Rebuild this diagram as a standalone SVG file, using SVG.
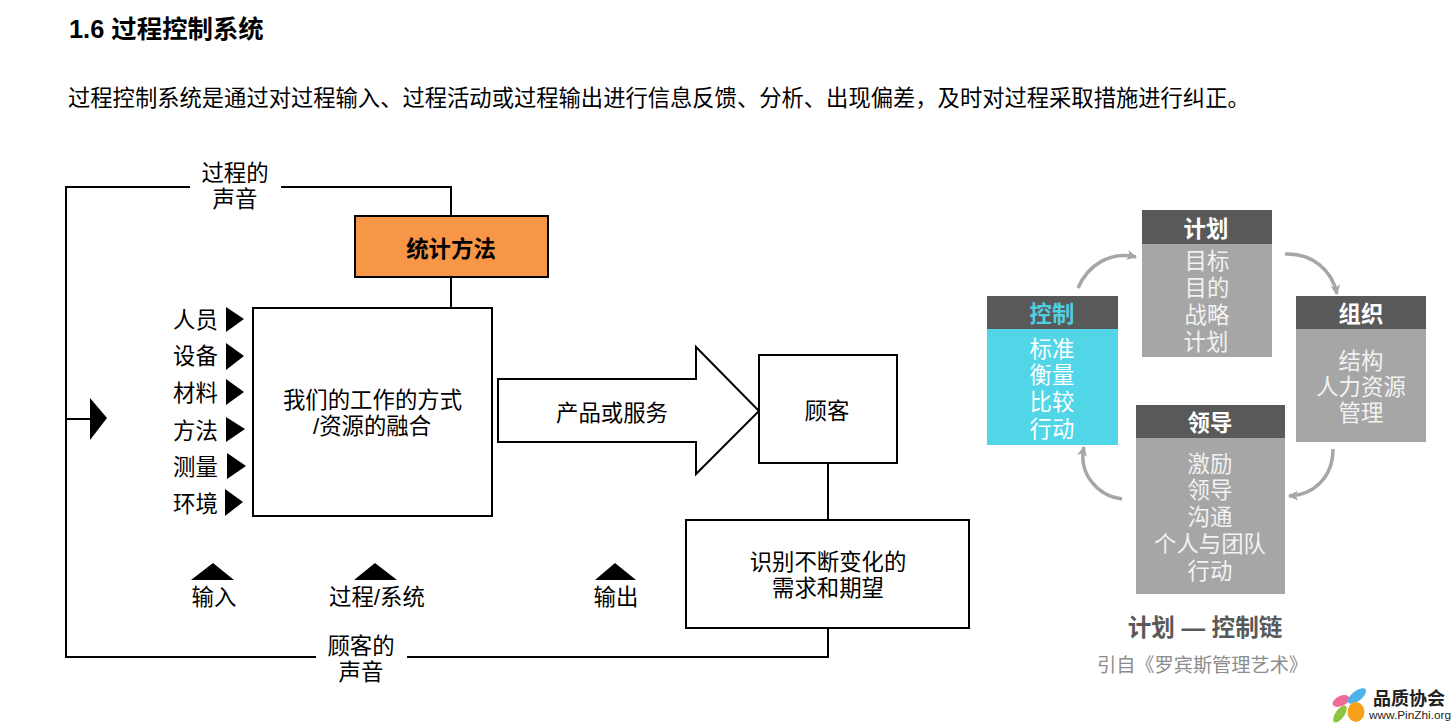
<svg xmlns="http://www.w3.org/2000/svg" width="1456" height="726" viewBox="0 0 1456 726">
<style>
text{font-family:"Liberation Sans","Noto Sans CJK SC",sans-serif;fill:#000;text-anchor:middle}
.t{font-size:22.4px}
.b{font-size:22.4px;font-weight:700}
.w{font-size:22.4px;fill:#f2f2f2}
.h{font-size:22.4px;font-weight:700;fill:#fff}
.box{fill:#fff;stroke:#000;stroke-width:2}
.ln{fill:none;stroke:#000;stroke-width:2}
.arc{fill:none;stroke:#a6a6a6;stroke-width:3.5;marker-end:url(#ah)}
.hd{fill:#595959}.gr{fill:#a6a6a6}
</style>
<defs><marker id="ah" markerUnits="userSpaceOnUse" markerWidth="12" markerHeight="12" refX="9" refY="5" orient="auto"><path d="M0 0L10 5L0 10L2.5 5Z" fill="#a6a6a6"/></marker></defs>
<text id="title" x="69" y="38" style="text-anchor:start;font-size:25.400px;font-weight:700">1.6 过程控制系统</text>
<text id="intro" x="68" y="106" style="text-anchor:start;font-size:22.3px">过程控制系统是通过对过程输入、过程活动或过程输出进行信息反馈、分析、出现偏差，及时对过程采取措施进行纠正。</text>
<g id="connectors">
<path class="ln" d="M190 187H66V657H316M281 187H451V216M451 277V308M407 657H828V628M828 463V520M66 419H92"/>
<path d="M90 398L107 418L90 440Z"/>
<path class="arc" d="M1078 288C1088 265 1110 251 1136 257"/>
<path class="arc" d="M1285 254C1312 253 1332 270 1337 294"/>
<path class="arc" d="M1333 449C1333 477 1314 495 1289 496"/>
<path class="arc" d="M1122 499C1098 496 1078 474 1084 447"/>
</g>
<g id="voice-process"><text class="t"><tspan x="235" y="181">过程的</tspan><tspan x="235" y="207">声音</tspan></text></g>
<g id="stat"><rect x="355" y="216" width="193" height="61" fill="#f79646" stroke="#000" stroke-width="2"/><text class="b" x="451" y="257">统计方法</text></g>
<g id="process"><rect class="box" x="253" y="308" width="239" height="208"/><text class="t"><tspan x="372.500" y="408">我们的工作的方式</tspan><tspan x="372" y="434">/资源的融合</tspan></text></g>
<g id="inputs">
<text class="t" x="195.500" y="328">人员</text><path d="M226 307L244 319L226 332Z"/>
<text class="t" x="195.500" y="364">设备</text><path d="M226 343L244 356L226 370Z"/>
<text class="t" x="195.500" y="401">材料</text><path d="M226 379L244 392L226 405Z"/>
<text class="t" x="195.500" y="439">方法</text><path d="M226 417L245 429L226 442Z"/>
<text class="t" x="195.500" y="475">测量</text><path d="M227 453L246 466L227 479Z"/>
<text class="t" x="195.500" y="512">环境</text><path d="M225 489L243 502L225 516Z"/>
</g>
<g id="product"><path class="box" d="M498 379H696V347L759 411L696 474V442H498Z"/><text class="t" x="612" y="421">产品或服务</text></g>
<g id="customer"><rect class="box" x="759" y="355" width="138" height="108"/><text class="t" x="827" y="419">顾客</text></g>
<g id="needs"><rect class="box" x="686" y="520" width="283" height="108"/><text class="t"><tspan x="828" y="570">识别不断变化的</tspan><tspan x="828" y="596">需求和期望</tspan></text></g>
<g id="labels">
<path d="M191 580L213 563L234 580Z"/><text class="t" x="214" y="605">输入</text>
<path d="M354 580L375 563L397 580Z"/><text class="t" x="377" y="605">过程/系统</text>
<path d="M595 580L615 563L636 580Z"/><text class="t" x="616" y="605">输出</text>
</g>
<g id="voice-customer"><text class="t"><tspan x="361" y="654">顾客的</tspan><tspan x="361" y="680">声音</tspan></text></g>
<g id="plan"><rect class="gr" x="1142" y="244" width="130" height="113"/><rect class="hd" x="1142" y="210" width="130" height="34"/><text class="h" x="1206" y="237">计划</text>
<text class="w"><tspan x="1207" y="269">目标</tspan><tspan x="1207" y="296">目的</tspan><tspan x="1207" y="323">战略</tspan><tspan x="1206" y="350">计划</tspan></text></g>
<g id="organize"><rect class="gr" x="1296" y="329" width="130" height="113"/><rect class="hd" x="1296" y="296" width="130" height="33"/><text class="h" x="1361" y="322">组织</text>
<text class="w"><tspan x="1361" y="369">结构</tspan><tspan x="1361" y="395">人力资源</tspan><tspan x="1361" y="421">管理</tspan></text></g>
<g id="control"><rect x="987" y="329" width="131" height="116" fill="#51d6e8"/><rect class="hd" x="987" y="296" width="131" height="33"/><text class="h" x="1052" y="322" style="fill:#4fd0e2">控制</text>
<text class="w" style="fill:#fff"><tspan x="1052" y="357">标准</tspan><tspan x="1052" y="383">衡量</tspan><tspan x="1052" y="410">比较</tspan><tspan x="1052" y="437">行动</tspan></text></g>
<g id="lead"><rect class="gr" x="1136" y="438" width="149" height="156"/><rect class="hd" x="1136" y="405" width="149" height="33"/><text class="h" x="1210" y="431">领导</text>
<text class="w"><tspan x="1210" y="472">激励</tspan><tspan x="1210" y="498">领导</tspan><tspan x="1210" y="525">沟通</tspan><tspan x="1210" y="552">个人与团队</tspan><tspan x="1210" y="579">行动</tspan></text></g>
<text id="chain" x="1205" y="636" style="font-size:23.6px;font-weight:700;fill:#595959">计划 — 控制链</text>
<text id="cite" x="1202.500" y="672" style="font-size:19.2px;fill:#8c8c8c">引自《罗宾斯管理艺术》</text>
<g id="logo">
<ellipse cx="1341" cy="701" rx="9" ry="5" fill="#f06a9a" transform="rotate(-25 1341 701)"/>
<ellipse cx="1357" cy="696" rx="11" ry="5" fill="#4fb3e8" transform="rotate(-38 1357 696)"/>
<ellipse cx="1340" cy="714" rx="10" ry="4.500" fill="#8cc63f" transform="rotate(-55 1340 714)"/>
<ellipse cx="1356" cy="712" rx="8.500" ry="10" fill="#f7a11a"/>
<text x="1409" y="705" style="font-size:18px;font-weight:700;fill:#222">品质协会</text>
<text x="1410" y="719" style="font-size:11.8px;fill:#222">www.PinZhi.org</text>
</g>
</svg>
